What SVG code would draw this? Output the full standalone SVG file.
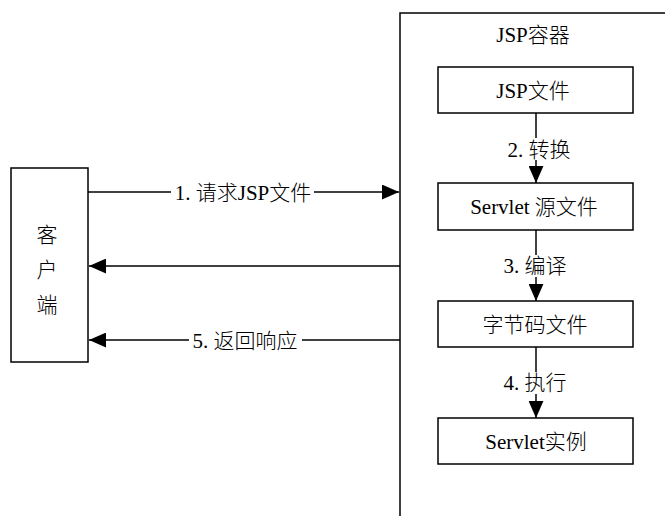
<svg xmlns="http://www.w3.org/2000/svg" width="665" height="516" viewBox="0 0 665 516">
  <style>
    .box { fill: #ffffff; stroke: #000000; stroke-width: 1.5; }
    .ln { fill: none; stroke: #000000; stroke-width: 1.5; }
    .t { font-family: "Liberation Serif", "Times New Roman", "Noto Sans CJK SC", serif; font-size: 21px; fill: #000000; text-anchor: middle; }
    .c { font-family: "Noto Sans CJK SC", sans-serif; font-weight: 300; }
    .bg { fill: #ffffff; }
  </style>
  <defs>
    <marker id="ah" viewBox="0 0 16 14" refX="16" refY="7" markerWidth="17" markerHeight="15" markerUnits="userSpaceOnUse" orient="auto">
      <path d="M0,0 L16,7 L0,14 Z" fill="#000000"/>
    </marker>
  </defs>
  <rect x="0" y="0" width="665" height="516" fill="#ffffff"/>

  <g id="container">
    <path class="ln" d="M400,516 V13 H665"/>
    <text class="t" x="533" y="42">JSP<tspan class="c">容器</tspan></text>
  </g>

  <g id="client">
    <rect class="box" x="11" y="168" width="77" height="194"/>
    <text class="t c" x="47" y="242">客</text>
    <text class="t c" x="47" y="277">户</text>
    <text class="t c" x="47" y="312">端</text>
  </g>

  <g id="jspfile">
    <rect class="box" x="438" y="67" width="195" height="46"/>
    <text class="t" x="533" y="98">JSP<tspan class="c">文件</tspan></text>
  </g>

  <g id="servletsrc">
    <rect class="box" x="438" y="183" width="195" height="47"/>
    <text class="t" x="534" y="214">Servlet <tspan class="c">源文件</tspan></text>
  </g>

  <g id="bytecode">
    <rect class="box" x="438" y="301" width="195" height="46"/>
    <text class="t c" x="535" y="332">字节码文件</text>
  </g>

  <g id="servletinst">
    <rect class="box" x="438" y="418" width="195" height="46"/>
    <text class="t" x="536" y="449">Servlet<tspan class="c">实例</tspan></text>
  </g>

  <g id="connectors">
    <line class="ln" x1="88" y1="192" x2="399" y2="192" marker-end="url(#ah)"/>
    <rect class="bg" x="171" y="180" width="143" height="24"/>
    <text class="t" x="243" y="200">1. <tspan class="c">请求</tspan>JSP<tspan class="c">文件</tspan></text>

    <line class="ln" x1="400" y1="266" x2="89" y2="266" marker-end="url(#ah)"/>

    <line class="ln" x1="400" y1="340" x2="89" y2="340" marker-end="url(#ah)"/>
    <rect class="bg" x="189" y="328" width="113" height="24"/>
    <text class="t" x="245" y="348">5. <tspan class="c">返回响应</tspan></text>

    <line class="ln" x1="536" y1="113" x2="536" y2="183" marker-end="url(#ah)"/>
    <rect class="bg" x="506" y="138" width="64" height="22"/>
    <text class="t" x="539" y="157">2. <tspan class="c">转换</tspan></text>

    <line class="ln" x1="536" y1="230" x2="536" y2="301" marker-end="url(#ah)"/>
    <rect class="bg" x="501" y="255" width="68" height="22"/>
    <text class="t" x="535" y="273">3. <tspan class="c">编译</tspan></text>

    <line class="ln" x1="536" y1="347" x2="536" y2="418" marker-end="url(#ah)"/>
    <rect class="bg" x="501" y="372" width="68" height="22"/>
    <text class="t" x="535" y="390">4. <tspan class="c">执行</tspan></text>
  </g>
</svg>
